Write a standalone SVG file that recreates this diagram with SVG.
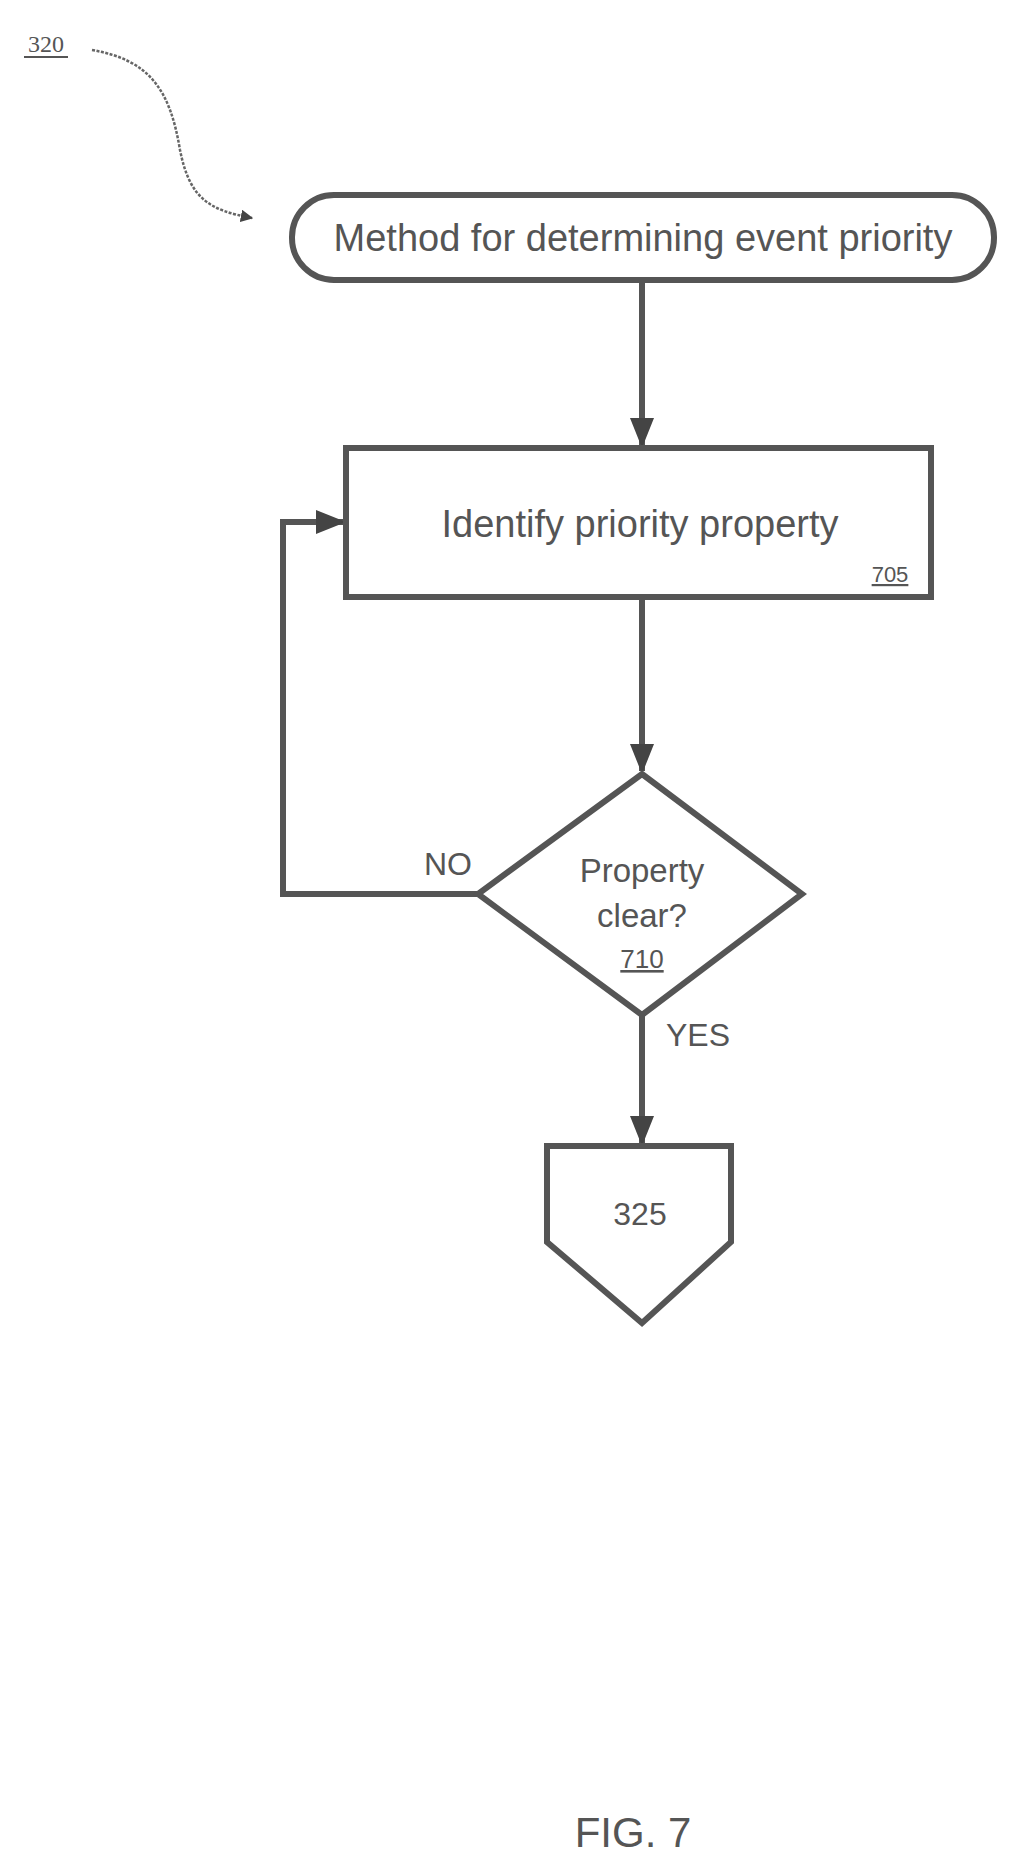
<svg xmlns="http://www.w3.org/2000/svg" width="1015" height="1872" viewBox="0 0 1015 1872">
<defs>
<marker id="ah" viewBox="0 0 10 10" refX="9" refY="5" markerWidth="5" markerHeight="5" orient="auto"><path d="M0,0 L10,5 L0,10 z" fill="#444"/></marker>
<marker id="ah2" viewBox="0 0 10 10" refX="9" refY="5" markerWidth="5" markerHeight="5" orient="auto"><path d="M0,1 L10,5 L0,9 z" fill="#444"/></marker>
</defs>
<style>
.s{fill:#fff;stroke:#555;stroke-width:6}
.c{fill:none;stroke:#555;stroke-width:6}
.t{font-family:"Liberation Sans",Arial,sans-serif;fill:#555;text-anchor:middle}
</style>
<rect width="1015" height="1872" fill="#fff"/>
<g id="label320">
<text x="46" y="52" class="t" font-size="24" style="font-family:'Liberation Serif',serif">320</text>
<line x1="24" y1="57" x2="68" y2="57" stroke="#555" stroke-width="2"/>
<path d="M92,50 C150,60 170,90 180,150 C190,200 210,210 252,218" fill="none" stroke="#666" stroke-width="2.5" stroke-dasharray="3,1.5" marker-end="url(#ah)"/>
</g>
<g id="connectors">
<line x1="642" y1="281" x2="642" y2="445" class="c" marker-end="url(#ah2)"/>
<line x1="642" y1="597" x2="642" y2="771" class="c" marker-end="url(#ah2)"/>
<polyline points="478,894 283,894 283,522 343,522" class="c" marker-end="url(#ah2)"/>
<line x1="642" y1="1015" x2="642" y2="1143" class="c" marker-end="url(#ah2)"/>
</g>
<g id="start">
<rect x="292" y="195" width="702" height="85" rx="42" class="s"/>
<text x="643" y="251" class="t" font-size="38">Method for determining event priority</text>
</g>
<g id="n705">
<rect x="346" y="448" width="585" height="149" class="s"/>
<text x="640" y="537" class="t" font-size="38">Identify priority property</text>
<text x="890" y="582" class="t" font-size="22" text-decoration="underline">705</text>
</g>
<g id="n710">
<polygon points="642,774 802,894 642,1015 478,894" class="s" stroke-width="4"/>
<text x="642" y="882" class="t" font-size="33">Property</text>
<text x="642" y="927" class="t" font-size="33">clear?</text>
<text x="642" y="968" class="t" font-size="26" text-decoration="underline">710</text>
<text x="448" y="875" class="t" font-size="32">NO</text>
<text x="698" y="1046" class="t" font-size="32">YES</text>
</g>
<g id="n325">
<polygon points="547,1146 731,1146 731,1242 642,1323 547,1242" class="s" stroke-width="5"/>
<text x="640" y="1225" class="t" font-size="32">325</text>
</g>
<text x="633" y="1847" class="t" font-size="42">FIG. 7</text>
</svg>
